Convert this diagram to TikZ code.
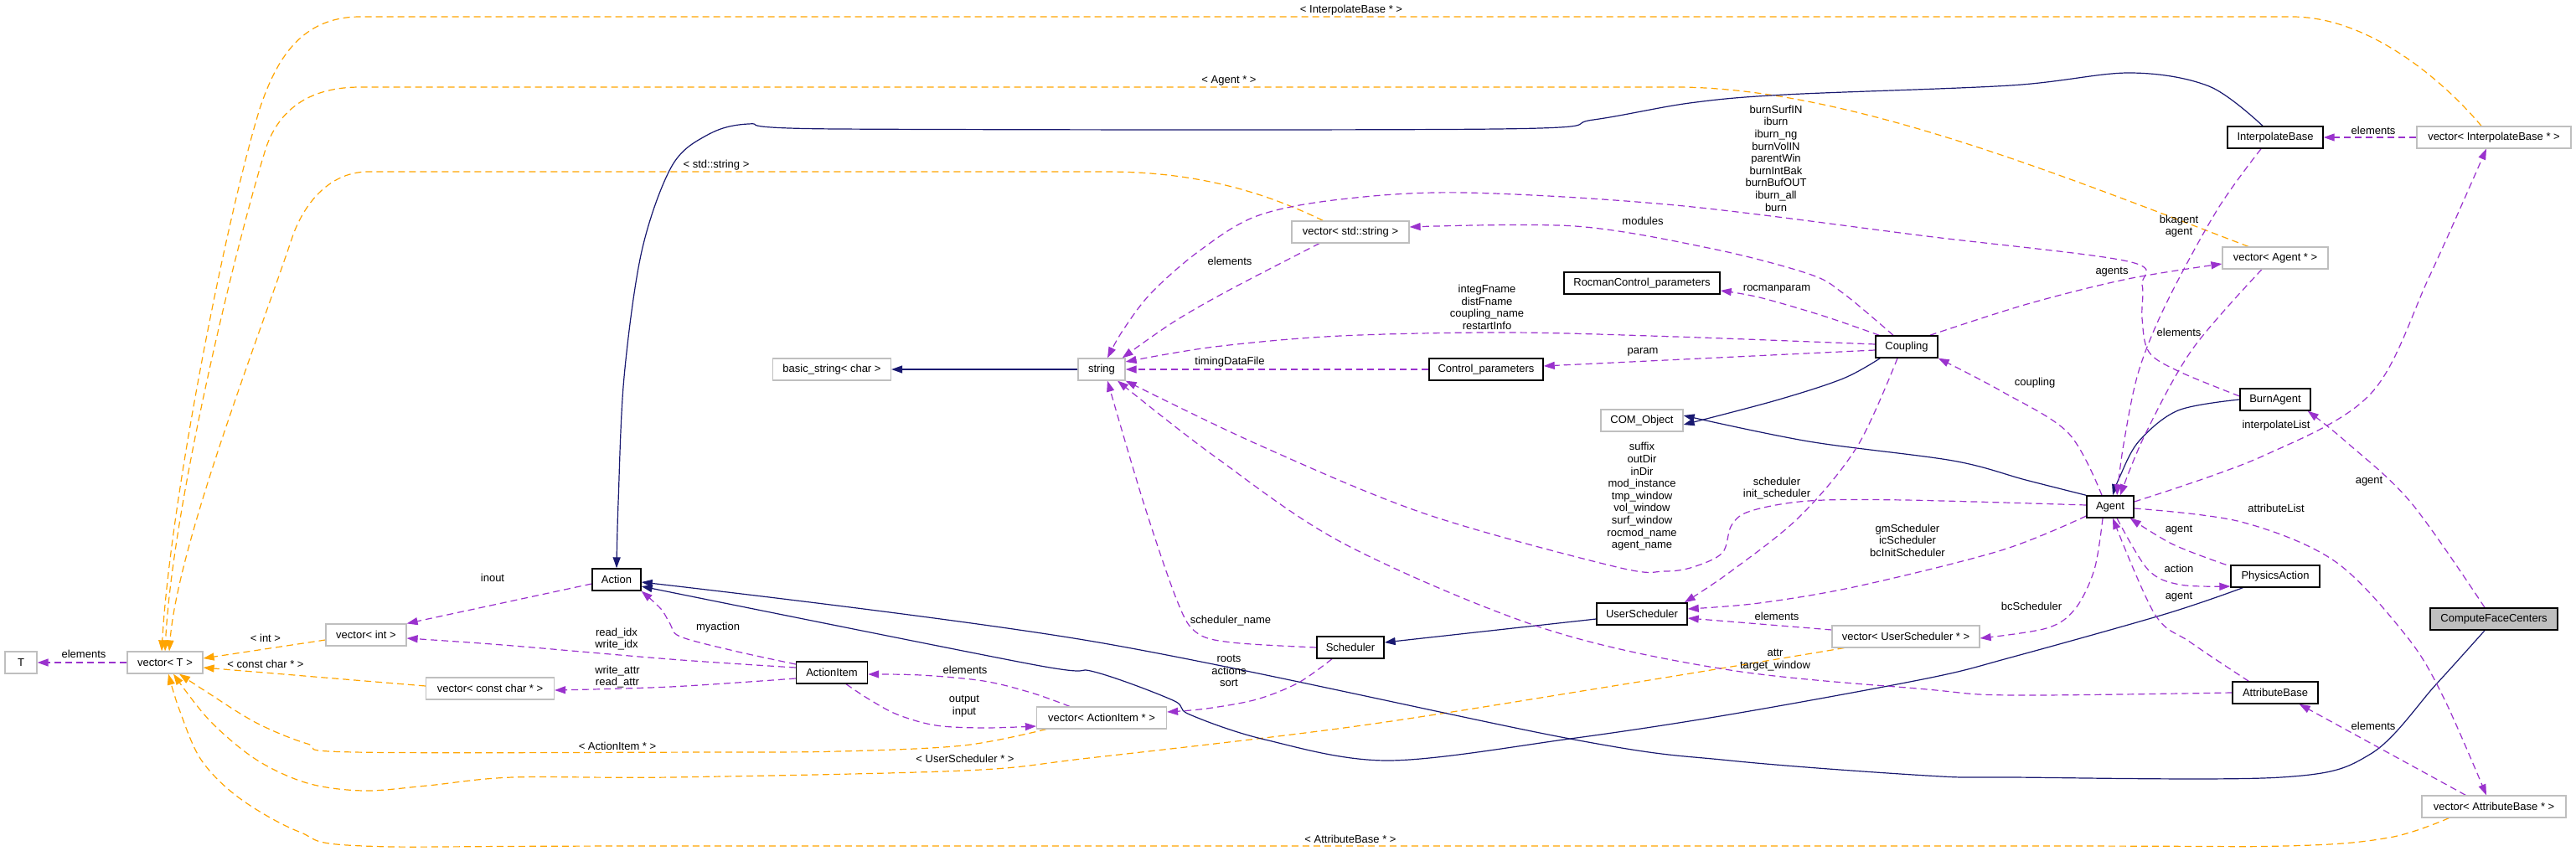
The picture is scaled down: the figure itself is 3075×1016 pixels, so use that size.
\documentclass[tikz,border=0pt]{standalone}
\usepackage{fontspec}
\setmainfont{Liberation Sans}
\usetikzlibrary{arrows.meta}
\definecolor{purp}{HTML}{9A32CD}
\definecolor{orng}{HTML}{FFA500}
\definecolor{navyb}{HTML}{191970}
\definecolor{grayb}{HTML}{BFBFBF}
\newcommand\dfont{\fontsize{13}{14.6}\selectfont}
\pgfdeclarelayer{bgl}
\pgfdeclarelayer{edgel}
\pgfsetlayers{bgl,edgel,main}
\begin{document}
\begin{tikzpicture}[x=1pt,y=-1pt,
  cls/.style={draw=black, line width=1.4pt, fill=white, minimum height=26pt, inner xsep=0pt, inner ysep=0pt, font=\dfont},
  ext/.style={cls, draw=grayb, line width=1.2pt},
  hi/.style={cls, fill=grayb},
  conn/.style={line width=1.2pt, -{Triangle[length=13pt,width=9pt]}},
  mem/.style={conn, draw=purp, dash pattern=on 8pt off 5pt},
  tpl/.style={conn, draw=orng, dash pattern=on 8pt off 5pt},
  inh/.style={conn, draw=navyb},
  sm/.style={smooth, tension=0.55},
  lab/.style={font=\dfont, align=center, inner sep=0pt}]
\begin{pgfonlayer}{bgl}
\fill[white] (0,0) rectangle (3075,1016);
\end{pgfonlayer}
\useasboundingbox (0,0) rectangle (3075,1016);

% nodes
\node[ext, minimum width=38pt] (T) at (25,791) {T};
\node[ext, minimum width=90pt] (vecT) at (197,791) {vector< T >};
\node[ext, minimum width=96pt] (vecint) at (437,758) {vector< int >};
\node[ext, minimum width=153pt] (veccc) at (585,822) {vector< const char * >};
\node[cls, minimum width=58pt] (Action) at (736,692) {Action};
\node[cls, minimum width=85pt] (ActionItem) at (993,803) {ActionItem};
\node[ext, minimum width=155pt] (vecAI) at (1315,857) {vector< ActionItem * >};
\node[cls, minimum width=80pt] (Scheduler) at (1612,773) {Scheduler};
\node[cls, minimum width=108pt] (UserScheduler) at (1960,733) {UserScheduler};
\node[ext, minimum width=176pt] (vecUS) at (2275,760) {vector< UserScheduler * >};
\node[ext, minimum width=141pt] (basic) at (993,441) {basic\_string< char >};
\node[ext, minimum width=56pt] (string) at (1315,441) {string};
\node[ext, minimum width=140pt] (vecstr) at (1612,277) {vector< std::string >};
\node[cls, minimum width=186pt] (Rocman) at (1960,338) {RocmanControl\_parameters};
\node[cls, minimum width=136pt] (Control) at (1774,441) {Control\_parameters};
\node[cls, minimum width=74pt] (Coupling) at (2276,414) {Coupling};
\node[ext, minimum width=98pt] (COM) at (1960,502) {COM\_Object};
\node[cls, minimum width=56pt] (Agent) at (2519,605) {Agent};
\node[cls, minimum width=114pt] (IB) at (2716,164) {InterpolateBase};
\node[ext, minimum width=184pt] (vecIB) at (2977,164) {vector< InterpolateBase * >};
\node[ext, minimum width=126pt] (vecAgent) at (2716,308) {vector< Agent * >};
\node[cls, minimum width=84pt] (BurnAgent) at (2716,477) {BurnAgent};
\node[cls, minimum width=106pt] (PA) at (2716,688) {PhysicsAction};
\node[hi, minimum width=152pt] (CFC) at (2977,739) {ComputeFaceCenters};
\node[cls, minimum width=102pt] (AB) at (2716,827) {AttributeBase};
\node[ext, minimum width=172pt] (vecAB) at (2977,963) {vector< AttributeBase * >};

\begin{pgfonlayer}{edgel}
% orange template edges
\draw[tpl] ([yshift=-6pt]vecint.west) -- ([yshift=5pt]vecT.east);
\draw[tpl] ([yshift=3pt]veccc.west) -- ([yshift=-6pt]vecT.east);
\draw[tpl] ([xshift=-15pt]vecIB.north) .. controls (2920,100) and (2830,20) .. (2736,20) -- (430,20) .. controls (360,20) and (330,70) .. (310,130) .. controls (270,260) and (203,600) .. ([xshift=-4pt]vecT.north);
\draw[tpl] ([xshift=-32pt]vecAgent.north) .. controls (2450,205) and (2200,104) .. (2000,104) -- (430,104) .. controls (372,104) and (335,128) .. (318,175) .. controls (285,280) and (206,600) .. (vecT.north);
\draw[tpl] ([xshift=38pt]vecstr.north west) .. controls (1500,225) and (1420,205) .. (1320,205) -- (440,205) .. controls (395,205) and (365,240) .. (350,280) .. controls (310,400) and (212,650) .. ([xshift=5pt]vecT.north);
\draw[tpl] plot[sm] coordinates {([xshift=12pt]vecAI.south west) (1150,890) (1002,897) (850,898) (423,898) (367,888) (306,863) (245,825) ([xshift=17pt]vecT.south)};
\draw[tpl] plot[sm] coordinates {([xshift=15pt]vecUS.south west) (1938,817) (1619,867) (1300,905) (1151,920) (800,928) (612,928) (510,938) (434,944) (367,935) (306,907) (250,860) ([xshift=10pt]vecT.south)};
\draw[tpl] plot[sm] coordinates {([xshift=33pt]vecAB.south west) (2852,1000) (2727,1010) (2400,1010) (800,1010) (434,1010) (357,993) (286,953) (240,907) (214,847) ([xshift=4pt]vecT.south)};

% navy inheritance edges
\draw[inh] (string.west) -- (basic.east);
\draw[inh] plot[sm] coordinates {([xshift=6pt]Coupling.south west) (2200,452) (2120,478) ([yshift=-5pt]COM.east)};
\draw[inh] plot[sm] coordinates {(Agent.north west) (2418,573) (2331,550) (2159,527) ([yshift=6pt]COM.east)};
\draw[inh] plot[sm] coordinates {(BurnAgent.west) (2600,490) (2553,527) (2530,570) ([xshift=3pt]Agent.north)};
\draw[inh] plot[sm] coordinates {([xshift=-15pt]IB.north) (2637,103) (2542,87) (2400,102) (2131,113) (2017,123) (1902,143) (1787,154) (1000,154) (893,148) (841,163) (801,200) (766,300) (745,450) (738,600) (Action.north)};
\draw[inh] ([yshift=-6pt]UserScheduler.west) -- ([yshift=6pt]Scheduler.east);
\draw[inh] plot[sm] coordinates {([xshift=15pt]PA.south west) (2585,733) (2400,785) (2300,810) (2065,853) (1874,882) (1657,908) (1510,883) (1420,853) (1400,836) (1306,802) (1231,793) ([yshift=-8pt]Action.east)};
\draw[inh] plot[sm] coordinates {([xshift=-11pt]CFC.south) (2908,817) (2830,900) (2723,928) (2400,928) (2300,926) (2065,908) (1874,882) (1300,765) ([yshift=-3pt]Action.east)};

% purple member edges
\draw[mem] (vecT.west) -- (T.east);
\draw[mem] plot[sm] coordinates {([yshift=6pt]ActionItem.west) (800,787) (600,770) ([yshift=-4pt]vecint.east)};
\draw[mem] ([yshift=-5pt]Action.west) -- (vecint.north east);
\draw[mem] plot[sm] coordinates {([yshift=-7pt]ActionItem.west) (800,820) ([yshift=-2pt]veccc.east)};
\draw[mem] plot[sm] coordinates {([yshift=10pt]ActionItem.west) (876,777) (812,760) (800,745) (789,727) (Action.south east)};
\draw[mem] plot[sm] coordinates {([xshift=-38pt]vecAI.north) (1231,827) (1174,813) (1099,806) ([yshift=-2pt]ActionItem.east)};
\draw[mem] plot[sm] coordinates {([xshift=17pt]ActionItem.south) (1036,834) (1071,853) (1117,866) (1174,869) ([yshift=-10pt]vecAI.west)};
\draw[mem] plot[sm] coordinates {([xshift=-22pt]Scheduler.south) (1550,815) (1500,835) (1440,846) ([yshift=7pt]vecAI.east)};
\draw[mem] plot[sm] coordinates {(Scheduler.west) (1470,767) (1428,755) (1405,717) (1365,600) ([xshift=7pt]string.south)};
\draw[mem] plot[sm] coordinates {([xshift=-37pt]vecstr.south) (1466,347) (1400,385) ([xshift=-4pt]string.north east)};
\draw[mem] plot[sm] coordinates {([xshift=-16pt]Coupling.north) (2200,350) (2159,327) (2044,297) (1880,270) ([yshift=6pt]vecstr.east)};
\draw[mem] plot[sm] coordinates {([yshift=3pt]Coupling.west) (2000,402) (1800,397) (1600,401) (1450,414) ([yshift=9pt]string.east)};
\draw[mem] ([yshift=-4pt]Coupling.west) -- ([yshift=4pt]Control.east);
\draw[mem] plot[sm] coordinates {([xshift=5pt]Coupling.north west) (2176,377) (2100,355) ([yshift=-9pt]Rocman.east)};
\draw[mem] (Control.west) -- (string.east);
\draw[mem] plot[sm] coordinates {([xshift=-10pt]Coupling.north east) (2420,363) (2540,333) ([yshift=-7pt]vecAgent.west)};
\draw[mem] plot[sm] coordinates {([xshift=-11pt]Coupling.south) (2217,533) (2148,617) (2065,683) ([xshift=-4pt]UserScheduler.north east)};
\draw[mem] plot[sm] coordinates {([yshift=-11pt]Agent.west) (2389,657) (2217,700) (2100,720) ([yshift=6pt]UserScheduler.east)};
\draw[mem] ([yshift=8pt]vecUS.west) -- ([yshift=-5pt]UserScheduler.east);
\draw[mem] plot[sm] coordinates {([xshift=-9pt]Agent.south) (2500,680) (2477,727) (2443,750) ([yshift=-2pt]vecUS.east)};
\draw[mem] plot[sm] coordinates {([yshift=2pt]Agent.west) (2274,597) (2159,598) (2090,610) (2067,627) (2056,660) (2021,677) (1987,682) (1930,677) (1700,613) (1500,530) (string.south east)};
\draw[mem] plot[sm] coordinates {([xshift=-10pt]Agent.north) (2469,517) (2389,467) (Coupling.south east)};
\draw[mem] plot[sm] coordinates {([xshift=-16pt]vecAgent.south) (2617,417) (2560,520) ([xshift=12pt]Agent.north)};
\draw[mem] plot[sm] coordinates {([xshift=-17pt]IB.south) (2647,250) (2587,360) (2553,443) (2535,530) ([xshift=8pt]Agent.north)};
\draw[mem] plot[sm] coordinates {([yshift=6pt]Agent.east) (2700,545) (2830,470) (2900,330) ([xshift=-9pt]vecIB.south)};
\draw[mem] plot[sm] coordinates {([yshift=-2pt]Agent.east) (2675,623) (2787,670) (2873,760) (2917,833) ([xshift=-9pt]vecAB.north)};
\draw[mem] plot[sm] coordinates {([xshift=-5pt]PA.north west) (2594,650) ([xshift=-5pt]Agent.south east)};
\draw[mem] plot[sm] coordinates {([xshift=8pt]Agent.south) (2564,680) (2602,698) ([yshift=-12pt]PA.west)};
\draw[mem] plot[sm] coordinates {([xshift=20pt]AB.north west) (2615,767) (2572,733) ([xshift=3pt]Agent.south)};
\draw[mem] ([xshift=53pt]vecAB.north west) -- ([xshift=-23pt]AB.south east);
\draw[mem] plot[sm] coordinates {([xshift=-11pt]CFC.north) (2878,600) (2800,527) ([xshift=-4pt]BurnAgent.south east)};
\draw[mem] plot[sm] coordinates {([yshift=4pt]BurnAgent.west) (2600,443) (2565,420) (2557,380) (2557,340) (2540,312) (2300,282) (2000,245) (1747,230) (1600,238) (1500,258) (1431,300) (1374,350) (1340,395) ([xshift=7pt]string.north)};
\draw[mem] plot[sm] coordinates {(AB.west) (2400,830) (2300,823) (2065,800) (1842,750) (1606,650) (1450,545) ([xshift=19pt]string.south)};
\draw[mem] (vecIB.west) -- (IB.east);
\end{pgfonlayer}

% labels
\node[lab] (l1) at (100,781) {elements};
\node[lab] (l2) at (317,762) {< int >};
\node[lab] (l3) at (317,793) {< const char * >};
\node[lab] (l4) at (588,690) {inout};
\node[lab] (l5) at (736,763) {read\_idx\\write\_idx};
\node[lab] (l6) at (737,808) {write\_attr\\read\_attr};
\node[lab] (l7) at (857,749) {myaction};
\node[lab] (l8) at (737,891) {< ActionItem * >};
\node[lab] (l9) at (1152,800) {elements};
\node[lab] (l10) at (1151,843) {output\\input};
\node[lab] (l11) at (1152,906) {< UserScheduler * >};
\node[lab] (l12) at (1467,801) {roots\\actions\\sort};
\node[lab] (l13) at (1469,741) {scheduler\_name};
\node[lab] (l14) at (1468,312) {elements};
\node[lab] (l15) at (1468,432) {timingDataFile};
\node[lab] (l16) at (1612,1002) {< AttributeBase * >};
\node[lab] (l17) at (2121,736) {elements};
\node[lab] (l18) at (2119,788) {attr\\target\_window};
\node[lab] (l19) at (1961,264) {modules};
\node[lab] (l20) at (2121,345) {rocmanparam};
\node[lab] (l21) at (1775,367) {integFname\\distFname\\coupling\_name\\restartInfo};
\node[lab] (l22) at (1961,420) {param};
\node[lab] (l23) at (2521,325) {agents};
\node[lab] (l24) at (2429,457) {coupling};
\node[lab] (l25) at (1960,593) {suffix\\outDir\\inDir\\mod\_instance\\tmp\_window\\vol\_window\\surf\_window\\rocmod\_name\\agent\_name};
\node[lab] (l26) at (2121,583) {scheduler\\init\_scheduler};
\node[lab] (l27) at (2277,645) {gmScheduler\\icScheduler\\bcInitScheduler};
\node[lab] (l28) at (2425,724) {bcScheduler};
\node[lab] (l29) at (2833,156) {elements};
\node[lab] (l30) at (2601,270) {bkagent\\agent};
\node[lab] (l31) at (2601,397) {elements};
\node[lab] (l32) at (1613,12) {< InterpolateBase * >};
\node[lab] (l33) at (1467,96) {< Agent * >};
\node[lab] (l34) at (855,197) {< std::string >};
\node[lab] (l35) at (2120,189) {burnSurfIN\\iburn\\iburn\_ng\\burnVolIN\\parentWin\\burnIntBak\\burnBufOUT\\iburn\_all\\burn};
\node[lab] (l36) at (2717,508) {interpolateList};
\node[lab] (l37) at (2717,607) {attributeList};
\node[lab] (l38) at (2601,633) {agent};
\node[lab] (l39) at (2601,679) {action};
\node[lab] (l40) at (2601,713) {agent};
\node[lab] (l41) at (2833,867) {elements};
\node[lab] (l42) at (2828,575) {agent};
\end{tikzpicture}
\end{document}
